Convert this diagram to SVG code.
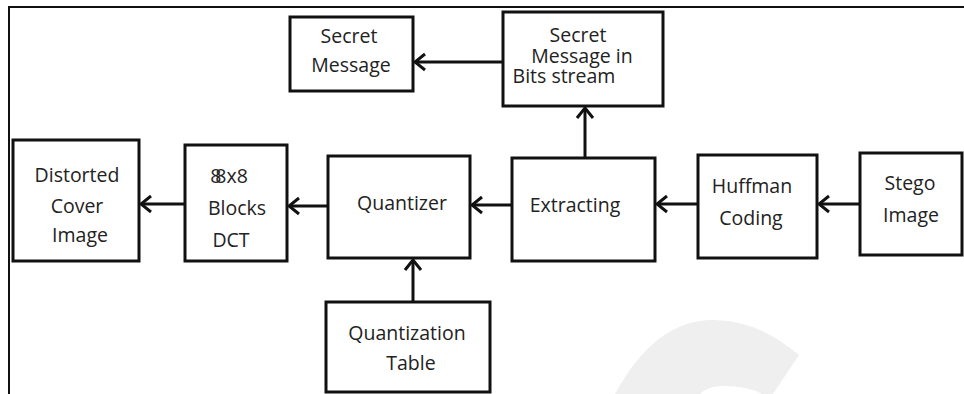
<svg xmlns="http://www.w3.org/2000/svg" width="964" height="394" viewBox="0 0 964 394">
  <style>
    .box { fill: #ffffff; stroke: #111111; stroke-width: 3; }
    .lbl { font-family: "Open Sans", "Liberation Sans", sans-serif; font-size: 19.5px; fill: #222222; text-anchor: middle; }
    .edge { stroke: #111111; stroke-width: 3; fill: none; marker-end: url(#chev); }
    .frame { stroke: #111111; stroke-width: 2; fill: none; }
  </style>
  <defs>
    <marker id="chev" markerUnits="userSpaceOnUse" viewBox="-14 -11 16 22" markerWidth="16" markerHeight="22" refX="0" refY="0" orient="auto">
      <path d="M-10,-8 L0,0 L-10,8" fill="none" stroke="#111111" stroke-width="3" stroke-linejoin="miter"/>
    </marker>
  </defs>

  <rect width="964" height="394" fill="#ffffff"/>

  <!-- faint background mark -->
  <path d="M615,394 Q655,320 713,320 Q758,320 799,355 L773,394 L762,394 Q748,386 723,386 Q708,386 700,394 Z" fill="#efefef"/>

  <!-- page frame -->
  <path class="frame" d="M9,394 L9,7 L964,7"/>

  <g id="connectors">
    <line class="edge" x1="503" y1="62" x2="415" y2="62"/>
    <line class="edge" x1="585" y1="158" x2="585" y2="108"/>
    <line class="edge" x1="860" y1="204" x2="819" y2="204"/>
    <line class="edge" x1="698" y1="204" x2="657" y2="204"/>
    <line class="edge" x1="512" y1="205" x2="472" y2="205"/>
    <line class="edge" x1="328" y1="206" x2="289" y2="206"/>
    <line class="edge" x1="185" y1="204" x2="141" y2="204"/>
    <line class="edge" x1="413" y1="302" x2="413" y2="260"/>
  </g>

  <g id="secret-message">
    <rect class="box" x="290" y="17" width="123" height="74"/>
    <text class="lbl" x="349" y="43">Secret</text>
    <text class="lbl" x="351" y="72">Message</text>
  </g>

  <g id="bits-stream">
    <rect class="box" x="503" y="12" width="160" height="94"/>
    <text class="lbl" x="578" y="42">Secret</text>
    <text class="lbl" x="582" y="63">Message in</text>
    <text class="lbl" x="564" y="83">Bits stream</text>
  </g>

  <g id="distorted-cover">
    <rect class="box" x="13" y="140" width="126" height="121"/>
    <text class="lbl" x="77" y="182">Distorted</text>
    <text class="lbl" x="77" y="213">Cover</text>
    <text class="lbl" x="80" y="242">Image</text>
  </g>

  <g id="dct-blocks">
    <rect class="box" x="185" y="145" width="102" height="116"/>
    <text class="lbl" x="229" y="183"><tspan>8</tspan><tspan dx="-6">8x8</tspan></text>
    <text class="lbl" x="237" y="215">Blocks</text>
    <text class="lbl" x="231" y="247">DCT</text>
  </g>

  <g id="quantizer">
    <rect class="box" x="328" y="156" width="142" height="102"/>
    <text class="lbl" x="402" y="210">Quantizer</text>
  </g>

  <g id="extracting">
    <rect class="box" x="512" y="158" width="143" height="103"/>
    <text class="lbl" x="575" y="212">Extracting</text>
  </g>

  <g id="huffman">
    <rect class="box" x="698" y="155" width="119" height="103"/>
    <text class="lbl" x="752" y="193">Huffman</text>
    <text class="lbl" x="751" y="225">Coding</text>
  </g>

  <g id="stego-image">
    <rect class="box" x="860" y="153" width="102" height="102"/>
    <text class="lbl" x="910" y="190">Stego</text>
    <text class="lbl" x="911" y="222">Image</text>
  </g>

  <g id="quantization-table">
    <rect class="box" x="326" y="302" width="164" height="90"/>
    <text class="lbl" x="407" y="340">Quantization</text>
    <text class="lbl" x="411" y="370">Table</text>
  </g>
</svg>
